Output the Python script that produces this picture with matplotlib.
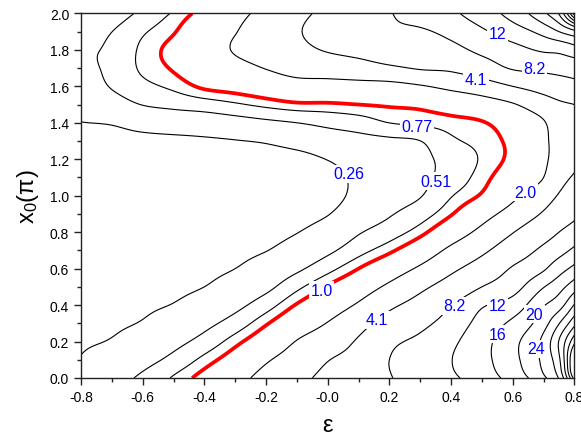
import numpy as np
import matplotlib
matplotlib.use('Agg')
import matplotlib.pyplot as plt

plt.rcParams['font.family'] = ['Liberation Sans', 'DejaVu Sans']
plt.rcParams['mathtext.default'] = 'regular'
plt.rcParams['axes.unicode_minus'] = False

# grid on which the field was read (x0 in units of pi)
x0_rows = [0.0, 0.1, 0.2, 0.3, 0.4, 0.5, 0.6, 0.7, 0.8, 0.9, 1.0,
           1.1, 1.2, 1.3, 1.4, 1.5, 1.6, 1.7, 1.8, 1.9, 2.0]
eps_cols = [-0.8, -0.7, -0.6, -0.5, -0.4, -0.3, -0.2, -0.1, 0.0,
            0.1, 0.2, 0.3, 0.4, 0.5, 0.6, 0.7, 0.75, 0.8]

# field values along x0 for each epsilon column
col_m080 = [0.29, 0.262, 0.24, 0.22, 0.21, 0.20, 0.195, 0.19, 0.19, 0.19, 0.195, 0.20, 0.21, 0.23, 0.254, 0.30, 0.38, 0.46, 0.48, 0.41, 0.29]
col_m070 = [0.40, 0.33, 0.265, 0.235, 0.215, 0.20, 0.19, 0.185, 0.18, 0.18, 0.185, 0.19, 0.205, 0.225, 0.265, 0.40, 0.53, 0.56, 0.55, 0.51, 0.40]
col_m060 = [0.565, 0.43, 0.34, 0.265, 0.235, 0.215, 0.20, 0.19, 0.185, 0.18, 0.18, 0.185, 0.20, 0.225, 0.31, 0.52, 0.69, 0.82, 0.83, 0.73, 0.565]
col_m050 = [0.80, 0.58, 0.44, 0.34, 0.262, 0.225, 0.205, 0.19, 0.18, 0.175, 0.175, 0.18, 0.195, 0.225, 0.35, 0.58, 0.83, 1.04, 1.12, 0.97, 0.80]
col_m040 = [1.16, 0.85, 0.60, 0.446, 0.34, 0.256, 0.22, 0.20, 0.185, 0.175, 0.17, 0.175, 0.19, 0.235, 0.37, 0.64, 1.07, 1.40, 1.52, 1.45, 1.16]
col_m030 = [1.70, 1.25, 0.90, 0.62, 0.446, 0.34, 0.256, 0.22, 0.20, 0.185, 0.175, 0.18, 0.20, 0.25, 0.41, 0.73, 1.19, 1.67, 2.15, 2.0, 1.70]
col_m020 = [2.46, 1.92, 1.36, 0.96, 0.65, 0.45, 0.34, 0.252, 0.215, 0.195, 0.18, 0.18, 0.205, 0.27, 0.46, 0.84, 1.37, 2.1, 2.8, 2.8, 2.46]
col_m010 = [3.5, 2.7, 2.1, 1.48, 1.03, 0.70, 0.466, 0.33, 0.252, 0.215, 0.195, 0.19, 0.215, 0.317, 0.512, 0.94, 1.61, 2.6, 3.5, 3.9, 3.5]
col_p000 = [4.75, 4.0, 2.89, 2.1, 1.48, 1.04, 0.68, 0.46, 0.33, 0.25, 0.21, 0.22, 0.26, 0.38, 0.58, 0.95, 1.64, 2.76, 4.3, 5.1, 4.75]
col_p010 = [6.2, 5.2, 4.4, 3.26, 2.2, 1.49, 1.0, 0.67, 0.49, 0.37, 0.30, 0.285, 0.32, 0.43, 0.645, 1.0, 1.67, 3.1, 5.0, 6.3, 6.2]
col_p020 = [8.0, 8.2, 7.3, 5.3, 3.6, 2.3, 1.47, 0.93, 0.64, 0.49, 0.41, 0.38, 0.40, 0.47, 0.77, 1.05, 1.69, 3.7, 6.0, 7.5, 8.0]
col_p030 = [9.7, 9.9, 9.0, 7.2, 5.2, 3.57, 2.25, 1.4, 0.9, 0.645, 0.50, 0.455, 0.46, 0.51, 0.825, 1.1, 1.95, 4.3, 5.7, 7.7, 9.7]
col_p040 = [11.6, 12.2, 11.5, 9.9, 8.0, 5.4, 3.6, 2.35, 1.47, 0.97, 0.75, 0.62, 0.60, 0.72, 0.89, 1.27, 2.39, 4.6, 7.0, 9.3, 11.6]
col_p050 = [14.3, 15.2, 15.0, 13.8, 11.8, 8.2, 5.45, 3.63, 2.4, 1.61, 1.05, 0.88, 0.80, 0.85, 0.97, 1.51, 2.97, 6.07, 9.2, 11.7, 14.3]
col_p060 = [18.0, 19.3, 19.3, 17.3, 13.97, 10.75, 8.6, 5.9, 4.0, 2.62, 1.8, 1.35, 1.12, 1.12, 1.3, 1.95, 4.1, 8.6, 11.0, 14.4, 18.0]
col_p070 = [23.8, 25.8, 25.8, 23.0, 20.2, 16.2, 11.8, 9.1, 6.5, 4.4, 3.0, 2.05, 1.85, 1.85, 1.95, 2.98, 5.4, 9.3, 12.8, 17.8, 23.8]
col_p075 = [29.0, 32.0, 33.0, 28.5, 22.9, 19.0, 14.7, 10.9, 8.2, 6.0, 4.3, 3.3, 2.6, 2.5, 2.8, 3.7, 6.25, 9.6, 13.2, 20.5, 29.0]
col_p080 = [47.0, 52.0, 44.0, 35.7, 29.0, 22.8, 17.5, 13.1, 9.8, 7.4, 5.6, 4.4, 3.4, 3.0, 3.2, 4.1, 7.0, 10.0, 14.6, 23.5, 47.0]

columns = [col_m080, col_m070, col_m060, col_m050, col_m040, col_m030,
           col_m020, col_m010, col_p000, col_p010, col_p020, col_p030,
           col_p040, col_p050, col_p060, col_p070, col_p075, col_p080]

# contour levels and their printed labels
levels = [0.256, 0.512, 0.768, 1.0, 2.05, 4.1, 8.2, 12.3, 16.4, 20.5,
          24.6, 28.7, 32.8, 36.9, 41.0, 45.1]
level_labels = {0.256: '0.26', 0.512: '0.51', 0.768: '0.77', 1.0: '1.0',
                2.05: '2.0', 4.1: '4.1', 8.2: '8.2', 12.3: '12', 16.4: '16',
                20.5: '20', 24.6: '24'}
highlight_level = 1.0

# where the labels sit (level, epsilon, x0)
label_spots = [(0.256, 0.07, 1.12), (0.512, 0.35, 1.08), (0.768, 0.29, 1.38),
               (1.0, -0.02, 0.48), (2.05, 0.64, 1.02), (4.1, 0.48, 1.64),
               (4.1, 0.16, 0.32), (8.2, 0.67, 1.70), (8.2, 0.41, 0.395),
               (12.3, 0.55, 1.89), (12.3, 0.55, 0.395), (16.4, 0.55, 0.24),
               (20.5, 0.67, 0.35), (24.6, 0.675, 0.16)]


def hermite_axis0(xk, yk, xq):
    """C1 cubic Hermite interpolation along axis 0 (non-uniform knots)."""
    xk = np.asarray(xk, float)
    yk = np.asarray(yk, float)
    xq = np.asarray(xq, float)
    h = np.diff(xk)
    delta = np.diff(yk, axis=0) / h[:, None]
    d = np.empty_like(yk)
    d[0] = delta[0]
    d[-1] = delta[-1]
    d[1:-1] = ((h[1:, None] * delta[:-1] + h[:-1, None] * delta[1:])
               / (h[:-1] + h[1:])[:, None])
    idx = np.clip(np.searchsorted(xk, xq, side='right') - 1, 0, len(xk) - 2)
    hh = h[idx][:, None]
    t = ((xq - xk[idx]) / h[idx])[:, None]
    h00 = 2 * t**3 - 3 * t**2 + 1
    h10 = t**3 - 2 * t**2 + t
    h01 = -2 * t**3 + 3 * t**2
    h11 = t**3 - t**2
    return h00 * yk[idx] + h10 * hh * d[idx] + h01 * yk[idx + 1] + h11 * hh * d[idx + 1]


# ---- smooth field from the read grid (log space, periodic in x0) ----
Z = np.log(np.array(columns, dtype=float).T)          # rows: x0, cols: eps
x0_ext = np.concatenate([[x0_rows[0] - 0.1], x0_rows, [x0_rows[-1] + 0.1]])
Z_ext = np.vstack([Z[-2], Z, Z[1]])
ef = np.linspace(-0.8, 0.8, 401)
xf = np.linspace(0.0, 2.0, 501)
Zx = hermite_axis0(x0_ext, Z_ext, xf)                 # (len(xf), n_eps)
ZF = hermite_axis0(eps_cols, Zx.T, ef).T              # (len(xf), len(ef))
F = np.exp(ZF)
EF, XF = np.meshgrid(ef, xf)

fig = plt.figure(figsize=(5.81, 4.35), dpi=100)
ax = fig.add_axes([81 / 581, 56 / 435, 493.4 / 581, 364.6 / 435])

cols = ['red' if lv == highlight_level else 'black' for lv in levels]
lws = [2.7 if lv == highlight_level else 0.8 for lv in levels]
ax.contour(EF, XF, F, levels=levels, colors=cols, linewidths=lws)

for lv, ex, xx in label_spots:
    ax.text(ex, xx, level_labels[lv], color='blue', fontsize=11.5,
            ha='center', va='center', zorder=5,
            bbox=dict(boxstyle='square,pad=0.1', fc='white', ec='none'))

ax.set_xlim(-0.8, 0.8)
ax.set_ylim(0.0, 2.0)
ax.set_xticks(np.arange(-0.8, 0.81, 0.2))
ax.set_xticklabels(['%.1f' % v for v in np.arange(-0.8, 0.81, 0.2)])
ax.set_yticks(np.arange(0.0, 2.01, 0.2))
ax.set_yticklabels(['%.1f' % v for v in np.arange(0.0, 2.01, 0.2)])
ax.set_xticks(np.arange(-0.7, 0.8, 0.2), minor=True)
ax.set_yticks(np.arange(0.1, 2.0, 0.2), minor=True)
ax.tick_params(which='both', direction='out', top=False, right=False,
               labelsize=10, width=1.0, color='#222222')
ax.tick_params(which='major', length=5)
ax.tick_params(which='minor', length=3)
for s in ax.spines.values():
    s.set_linewidth(1.0)
    s.set_color('#222222')

ax.set_xlabel('ε', fontsize=17, labelpad=7)
ax.set_ylabel('x$_0$(π)', fontsize=17, labelpad=6)

fig.savefig('out.png', dpi=100)
